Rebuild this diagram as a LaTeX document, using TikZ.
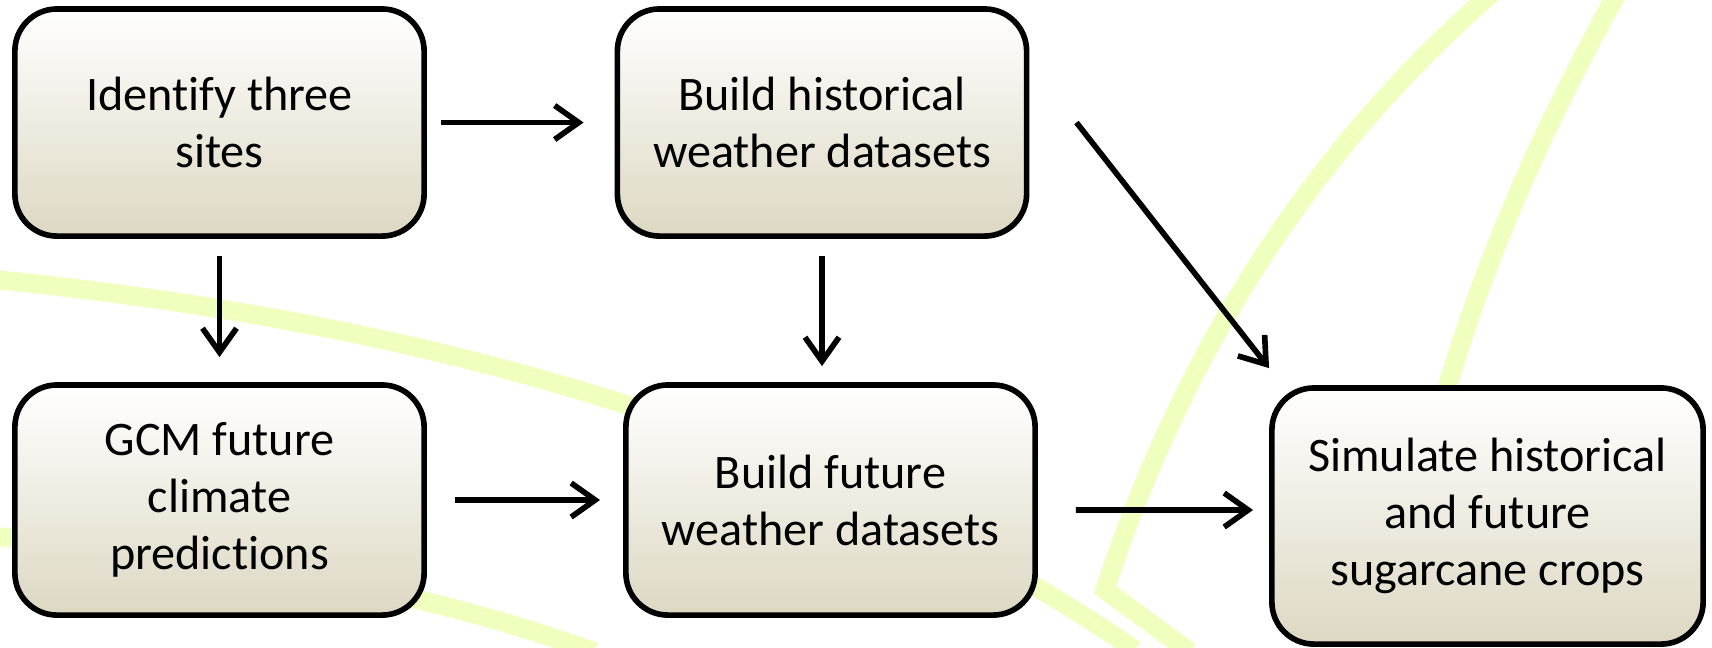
\documentclass[tikz,border=0pt]{standalone}
\usepackage{fontspec}
\setmainfont[Ligatures=NoCommon]{Carlito}
\usetikzlibrary{arrows.meta}
\definecolor{leafgreen}{RGB}{238,255,190}
\definecolor{boxbeige}{RGB}{221,216,195}

\tikzset{
  stepbox/.style={draw=black, line width=1.6pt, rounded corners=0.42cm,
    top color=white, bottom color=boxbeige, align=center,
    minimum width=4.09cm, minimum height=2.27cm, inner sep=0pt,
    font=\fontsize{13.7}{16.2}\selectfont},
  flow/.style={line width=1.6pt, -{Straight Barb[length=0.24cm,width=0.34cm]}},
  leaf/.style={leafgreen, line width=0.19cm, line join=miter}
}

\begin{document}
\begin{tikzpicture}[x=0.01cm,y=-0.01cm]

\useasboundingbox (0,0) rectangle (1712,647);
\clip (0,0) rectangle (1712,647);

% Background strokes
\draw[leaf] (-10,279) .. controls (400,320) and (800,420) .. (1135,650);
\draw[leaf] (-10,536) .. controls (250,560) and (420,590) .. (595,652);
\draw[leaf] (1505,-18) .. controls (1330,130) and (1190,330) .. (1105,590) -- (1190,652);
\draw[leaf] (1622,-15) .. controls (1540,130) and (1470,290) .. (1430,450);

% Steps
\node[stepbox] (sites) at (219.5,122.5) {Identify three\\sites};
\node[stepbox] (histwx) at (822,122.5) {Build historical\\weather datasets};
\node[stepbox, minimum height=2.30cm] (gcm) at (219.5,500) {GCM future\\climate\\predictions};
\node[stepbox, minimum height=2.30cm] (futwx) at (830.5,500) {Build future\\weather datasets};
\node[stepbox, minimum width=4.31cm, minimum height=2.56cm] (simcrop) at (1487.5,516) {Simulate historical\\and future\\sugarcane crops};

% Arrows
\draw[flow, shorten <=0.14cm, shorten >=0.31cm] (sites) -- (histwx);
\draw[flow, shorten <=0.17cm, shorten >=0.25cm] (sites) -- (gcm);
\draw[flow, shorten <=0.17cm, shorten >=0.16cm] (histwx.south) -- (histwx.south |- futwx.north);
\draw[flow] ([xshift=0.47cm]histwx.east) -- ([yshift=0.17cm]simcrop.north west);
\draw[flow, shorten <=0.28cm, shorten >=0.23cm] (gcm) -- (futwx);
\draw[flow, shorten <=0.38cm, shorten >=0.16cm] ([yshift=-0.1cm]futwx.east) -- ([yshift=0.06cm]simcrop.west);

\end{tikzpicture}
\end{document}
